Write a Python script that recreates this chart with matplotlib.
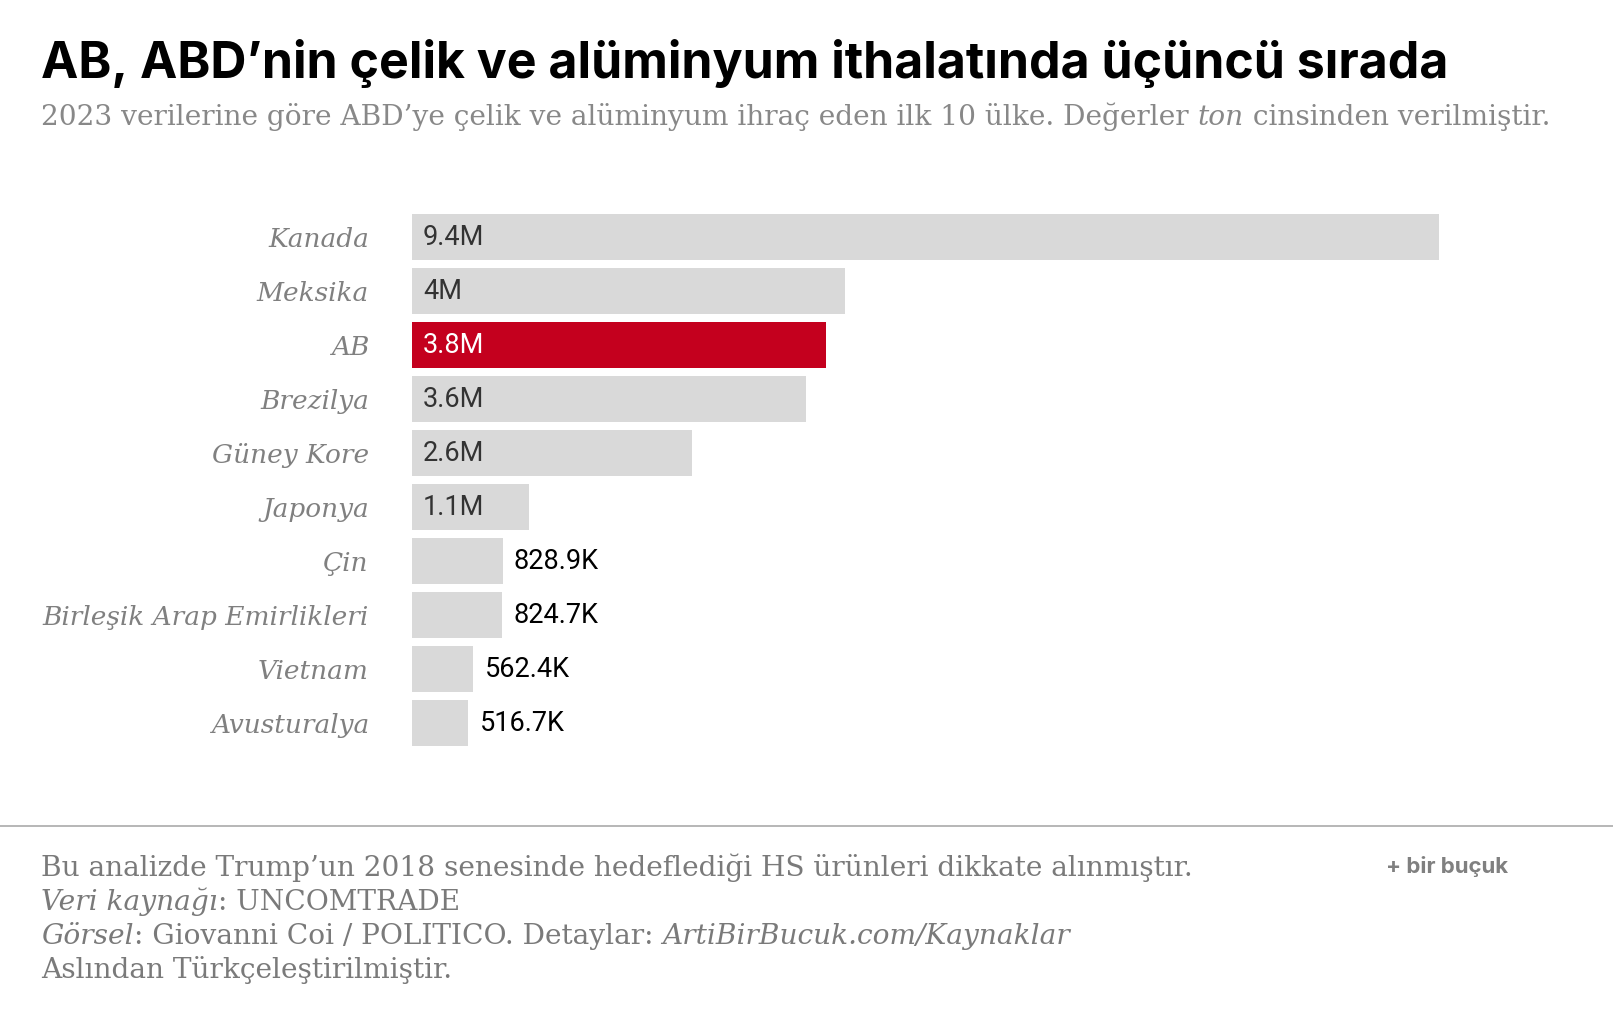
import matplotlib
matplotlib.use("Agg")
import matplotlib.pyplot as plt

# data (tons, in millions)
countries = ["Kanada", "Meksika", "AB", "Brezilya", "Güney Kore", "Japonya",
             "Çin", "Birleşik Arap Emirlikleri", "Vietnam", "Avusturalya"]
values = [9.4, 3.96, 3.79, 3.61, 2.56, 1.07, 0.8289, 0.8247, 0.5624, 0.5167]
highlight = "AB"

title = "AB, ABD’nin çelik ve alüminyum ithalatında üçüncü sırada"
subtitle_parts = [("2023 verilerine göre ABD’ye çelik ve alüminyum ihraç eden ilk 10 ülke. Değerler ", "normal"),
                  ("ton", "italic"),
                  (" cinsinden verilmiştir.", "normal")]
footer_lines = [
    [("Bu analizde Trump’un 2018 senesinde hedeflediği HS ürünleri dikkate alınmıştır.", "normal")],
    [("Veri kaynağı", "italic"), (": UNCOMTRADE", "normal")],
    [("Görsel", "italic"), (": Giovanni Coi / POLITICO. Detaylar: ", "normal"),
     ("ArtiBirBucuk.com/Kaynaklar", "italic")],
    [("Aslından Türkçeleştirilmiştir.", "normal")],
]

W, H = 1613, 1013
fig = plt.figure(figsize=(W / 100, H / 100), dpi=100)
fig.patch.set_facecolor("white")

GREY_BAR = "#d9d9d9"
RED = "#c4001e"
SERIF = "DejaVu Serif"


def fmt(v):
    if v >= 1:
        s = f"{v:.1f}".rstrip("0").rstrip(".")
        return s + "M"
    return f"{v * 1000:.1f}K"


def runs(x, y, parts, **kw):
    # draw consecutive text pieces with different styles on one line
    r = fig.canvas.get_renderer()
    for txt, style in parts:
        t = fig.text(x / W, 1 - y / H, txt, style=style, **kw)
        bb = t.get_window_extent(renderer=r)
        x += bb.width


# bars
top_px, pitch = 210, 54
n = len(countries)
ax = fig.add_axes([412 / W, 1 - (top_px + pitch * n) / H, (1439 - 412) / W, pitch * n / H])
colors = [RED if c == highlight else GREY_BAR for c in countries]
ypos = list(range(n))
ax.barh(ypos, values, height=0.84, color=colors)
ax.set_xlim(0, max(values))
ax.set_ylim(n - 0.5, -0.5)
ax.set_yticks(ypos)
ax.set_yticklabels(countries, family=SERIF, style="italic", fontsize=19, color="#808080")
ax.tick_params(axis="y", length=0, pad=31)
ax.set_xticks([])
for s in ax.spines.values():
    s.set_visible(False)

px = max(values) / (1439 - 412)
for i, v in enumerate(values):
    lab = fmt(v)
    if v >= 1:
        col = "white" if countries[i] == highlight else "#333333"
        ax.text(11 * px, i, lab, va="center", ha="left", fontsize=19.5,
                family="Roboto", color=col)
    else:
        ax.text(v + 11 * px, i, lab, va="center", ha="left", fontsize=19.5,
                family="Roboto", color="black")

# header
fig.text(41 / W, 1 - 78 / H, title, fontsize=36, fontweight="bold",
         family="Inter", color="black", va="baseline")
runs(41, 125, subtitle_parts, fontsize=20.2, family=SERIF, color="#888888", va="baseline")

# footer
fig.add_artist(plt.Line2D([0, 1], [1 - 826 / H, 1 - 826 / H], color="#aaaaaa", lw=1.2))
for k, line in enumerate(footer_lines):
    runs(41, 876 + 34 * k, line, fontsize=20.2, family=SERIF, color="#7a7a7a", va="baseline")
fig.text(1386 / W, 1 - 873 / H, "+ bir buçuk", fontsize=16, fontweight="bold",
         family="Inter", color="#808080", va="baseline")

fig.savefig("out.png", dpi=100, facecolor="white")
